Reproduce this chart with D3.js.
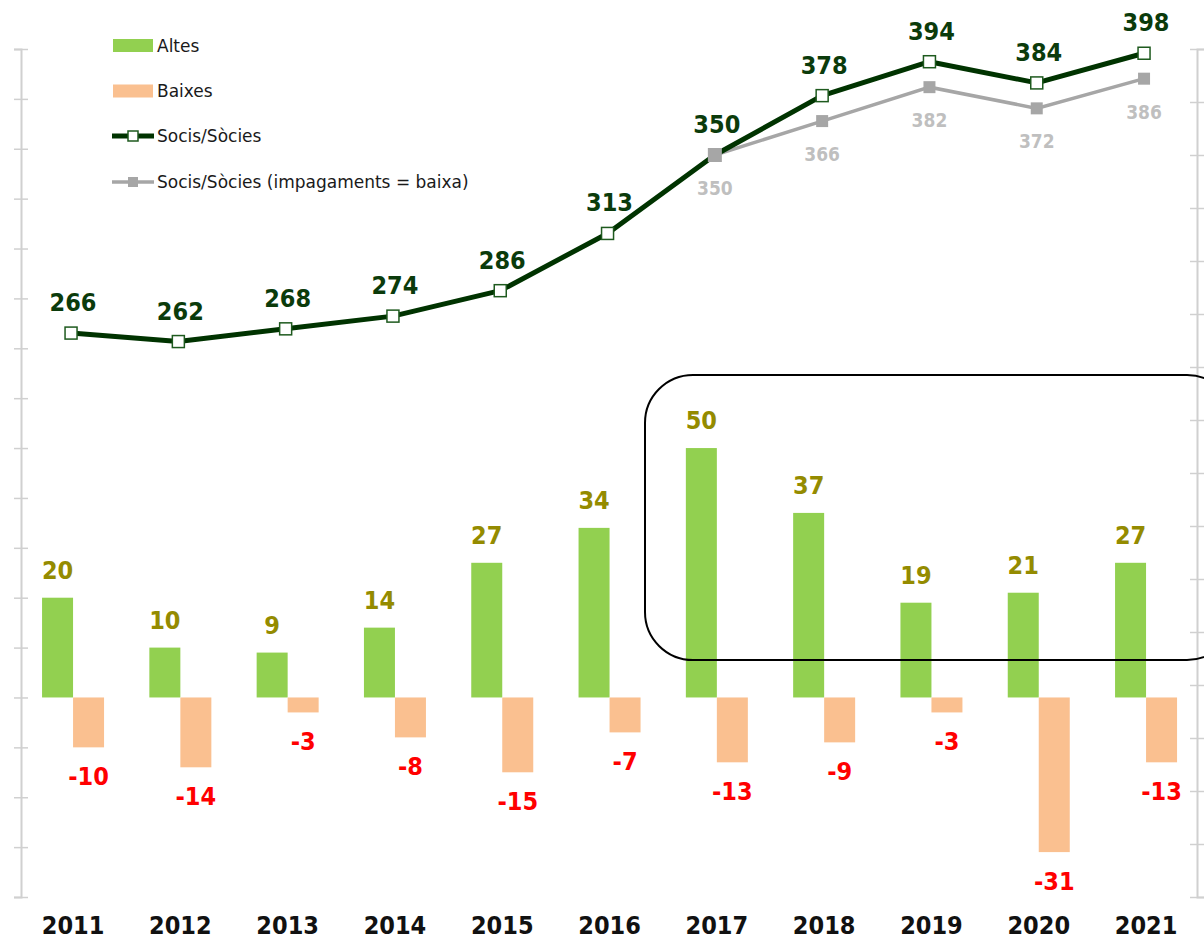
<!DOCTYPE html>
<html>
<head>
<meta charset="utf-8">
<script src="https://cdn.jsdelivr.net/npm/d3@7"></script>
<style>
  html, body { margin: 0; padding: 0; background: #fff; }
  svg { display: block; }
  .lbl { font-family: 'DejaVu Sans Condensed', 'DejaVu Sans', sans-serif; font-stretch: condensed; font-weight: bold; }
  .leg { font-family: 'DejaVu Sans', sans-serif; }
</style>
</head>
<body>
<svg id="chart" width="1204" height="940"></svg>
<script>
const years = ["2011","2012","2013","2014","2015","2016","2017","2018","2019","2020","2021"];
const altes = [20, 10, 9, 14, 27, 34, 50, 37, 19, 21, 27];
const baixes = [-10, -14, -3, -8, -15, -7, -13, -9, -3, -31, -13];
const socis = [266, 262, 268, 274, 286, 313, 350, 378, 394, 384, 398];
const socisImpYears = ["2017","2018","2019","2020","2021"];
const socisImp = [350, 366, 382, 372, 386];
const leftTicks = d3.range(-40, 131, 10);
const rightTicks = d3.range(0, 401, 25);
const legendLabels = ["Altes", "Baixes", "Socis/Sòcies", "Socis/Sòcies (impagaments = baixa)"];

(function () {
const svg = d3.select("#chart");
const plotTop = 49, plotBottom = 897;
const x = d3.scaleBand().domain(years).range([19.4, 1199.7]).padding(0);
const yL = d3.scaleLinear().domain([-40, 130]).range([plotBottom, plotTop]);
const yR = d3.scaleLinear().domain([0, 400]).range([plotBottom, plotTop]);
const cx = d => x(d) + x.bandwidth() / 2;
const barW = 31;

// axes (no labels, crossing ticks)
const axisColor = "#d0d0d0";
const gL = svg.append("g").attr("transform", "translate(21,0)")
  .call(d3.axisLeft(yL).tickValues(leftTicks).tickFormat("").tickSize(7));
const gR = svg.append("g").attr("transform", "translate(1197,0)")
  .call(d3.axisRight(yR).tickValues(rightTicks).tickFormat("").tickSize(7));
[gL, gR].forEach(g => {
  g.select(".domain").attr("stroke", axisColor).attr("stroke-width", 2);
  g.selectAll(".tick line").attr("stroke", axisColor).attr("stroke-width", 1.5).attr("x1", -7).attr("x2", 7);
});

// bars
svg.append("g").selectAll("rect").data(years).join("rect")
  .attr("x", (d) => cx(d) - barW).attr("width", barW)
  .attr("y", (d, i) => yL(altes[i])).attr("height", (d, i) => yL(0) - yL(altes[i]))
  .attr("fill", "#92d050");
svg.append("g").selectAll("rect").data(years).join("rect")
  .attr("x", (d) => cx(d)).attr("width", barW)
  .attr("y", yL(0)).attr("height", (d, i) => yL(baixes[i]) - yL(0))
  .attr("fill", "#fac090");

// bar labels
svg.append("g").selectAll("text").data(years).join("text")
  .attr("class", "lbl").attr("text-anchor", "middle").attr("font-size", 25)
  .attr("x", d => cx(d) - barW / 2).attr("y", (d, i) => yL(altes[i]) - 19)
  .attr("fill", "#948b00").text((d, i) => altes[i]);
svg.append("g").selectAll("text").data(years).join("text")
  .attr("class", "lbl").attr("text-anchor", "middle").attr("font-size", 25)
  .attr("x", d => cx(d) + barW / 2).attr("y", (d, i) => yL(baixes[i]) + 38)
  .attr("fill", "#ff0000").text((d, i) => baixes[i]);

// gray line (impagaments)
const lineG = d3.line().x(d => cx(d[0]) - 2).y(d => yR(d[1]));
const grayPts = socisImpYears.map((d, i) => [d, socisImp[i]]);
svg.append("path").datum(grayPts).attr("d", lineG)
  .attr("fill", "none").attr("stroke", "#a6a6a6").attr("stroke-width", 3.5);
svg.append("g").selectAll("rect").data(grayPts).join("rect")
  .attr("x", d => cx(d[0]) - 2 - 6).attr("y", d => yR(d[1]) - 6)
  .attr("width", 12).attr("height", 12).attr("fill", "#a6a6a6");

// main line
const mainPts = years.map((d, i) => [d, socis[i]]);
svg.append("path").datum(mainPts).attr("d", lineG)
  .attr("fill", "none").attr("stroke", "#003300").attr("stroke-width", 5).attr("stroke-linejoin", "round");
svg.append("g").selectAll("rect").data(mainPts.filter(d => d[0] !== "2017")).join("rect")
  .attr("x", d => cx(d[0]) - 2 - 6).attr("y", d => yR(d[1]) - 6)
  .attr("width", 12).attr("height", 12).attr("fill", "#fff").attr("stroke", "#1e5a1e").attr("stroke-width", 1.5);
// 2017 point shows gray marker on top
svg.append("rect").attr("x", cx("2017") - 2 - 7).attr("y", yR(350) - 7)
  .attr("width", 14).attr("height", 14).attr("fill", "#a6a6a6");

// line labels
svg.append("g").selectAll("text").data(mainPts).join("text")
  .attr("class", "lbl").attr("text-anchor", "middle").attr("font-size", 25)
  .attr("x", d => cx(d[0])).attr("y", d => yR(d[1]) - 22)
  .attr("fill", "#0b3b0b").text(d => d[1]);
svg.append("g").selectAll("text").data(grayPts).join("text")
  .attr("class", "lbl").attr("text-anchor", "middle").attr("font-size", 19)
  .attr("x", d => cx(d[0]) - 2).attr("y", d => yR(d[1]) + 40)
  .attr("fill", "#bfbfbf").text(d => d[1]);

// year labels
svg.append("g").selectAll("text").data(years).join("text")
  .attr("class", "lbl").attr("text-anchor", "middle").attr("font-size", 25)
  .attr("x", d => cx(d)).attr("y", 934).attr("fill", "#111").text(d => d);

// highlight box
svg.append("rect").attr("x", 645).attr("y", 375).attr("width", 590).attr("height", 285)
  .attr("rx", 48).attr("ry", 48).attr("fill", "none").attr("stroke", "#000").attr("stroke-width", 2);

// legend
const leg = svg.append("g");
const rowsY = [45.5, 91, 136, 182];
leg.append("rect").attr("x", 113).attr("y", rowsY[0] - 6.5).attr("width", 40).attr("height", 13).attr("fill", "#92d050");
leg.append("rect").attr("x", 113).attr("y", rowsY[1] - 6.5).attr("width", 40).attr("height", 13).attr("fill", "#fac090");
leg.append("line").attr("x1", 112).attr("x2", 154).attr("y1", rowsY[2]).attr("y2", rowsY[2]).attr("stroke", "#003300").attr("stroke-width", 5);
leg.append("rect").attr("x", 128).attr("y", rowsY[2] - 5).attr("width", 10).attr("height", 10).attr("fill", "#fff").attr("stroke", "#1e5a1e").attr("stroke-width", 1.5);
leg.append("line").attr("x1", 112).attr("x2", 154).attr("y1", rowsY[3]).attr("y2", rowsY[3]).attr("stroke", "#a6a6a6").attr("stroke-width", 3.5);
leg.append("rect").attr("x", 128).attr("y", rowsY[3] - 5).attr("width", 10).attr("height", 10).attr("fill", "#a6a6a6");
leg.selectAll("text").data(legendLabels).join("text")
  .attr("class", "leg").attr("font-size", 17).attr("fill", "#1a1a1a")
  .attr("x", 157).attr("y", (d, i) => rowsY[i] + 6).text(d => d);
})();
</script>
</body>
</html>
